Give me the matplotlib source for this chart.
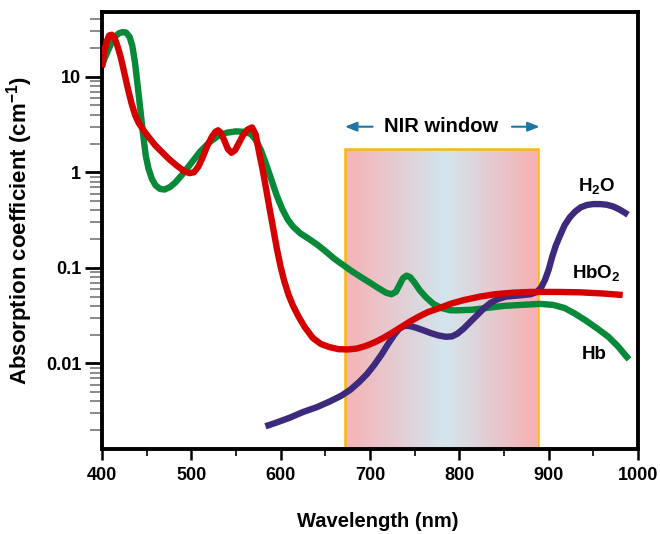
import numpy as np
import matplotlib.pyplot as plt
from matplotlib.colors import LinearSegmentedColormap
from matplotlib.ticker import LogLocator, NullFormatter, FixedLocator

plt.rcParams['font.family'] = ['Liberation Sans', 'DejaVu Sans']
plt.rcParams['font.weight'] = 'bold'
plt.rcParams['axes.labelweight'] = 'bold'
plt.rcParams['mathtext.fontset'] = 'custom'
plt.rcParams['mathtext.rm'] = 'Liberation Sans:bold'
plt.rcParams['mathtext.default'] = 'rm'

# deoxy-haemoglobin
hb_nm = [400, 403, 407, 411, 415, 419, 423, 427, 431, 434, 437, 440, 443, 446,
         449, 452, 456, 460, 465, 470, 476, 482, 490, 500, 510, 520, 530, 540,
         550, 560, 567, 572, 578, 584, 590, 596, 602, 608, 614, 622, 632, 641,
         650, 660, 670, 680, 690, 700, 710, 718, 724, 729, 733, 737, 741, 745,
         750, 756, 763, 771, 780, 790, 800, 815, 830, 850, 870, 890, 905, 918,
         930, 942, 955, 967, 978, 985, 990]
hb_val = [13, 15.5, 19, 23, 26.5, 28.5, 29.3, 29, 26, 21, 14, 8, 4.5, 2.5,
          1.5, 1.1, 0.85, 0.73, 0.67, 0.66, 0.7, 0.78, 0.95, 1.25, 1.65, 2.05,
          2.4, 2.6, 2.68, 2.65, 2.5, 2.2, 1.7, 1.2, 0.82, 0.56, 0.41, 0.32, 0.27,
          0.23, 0.2, 0.175, 0.15, 0.125, 0.107, 0.092, 0.08, 0.07, 0.061, 0.055,
          0.053, 0.056, 0.066, 0.078, 0.083, 0.08, 0.07, 0.058, 0.049, 0.042,
          0.038, 0.036, 0.036, 0.0365, 0.038, 0.04, 0.041, 0.042, 0.041, 0.038,
          0.033, 0.028, 0.023, 0.019, 0.015, 0.0125, 0.011]

# oxy-haemoglobin
hbo2_nm = [400, 402, 405, 408, 411, 414, 417, 421, 425, 429, 433, 437, 441, 446,
           452, 460, 468, 476, 484, 492, 498, 503, 508, 513, 518, 523, 527, 530,
           533, 537, 541, 545, 549, 553, 558, 563, 568, 572, 576, 580, 584, 588,
           592, 596, 600, 604, 609, 614, 620, 627, 636, 645, 655, 665, 675, 685,
           695, 705, 715, 725, 735, 745, 755, 765, 778, 790, 805, 823, 840, 860,
           880, 910, 935, 960, 983]
hbo2_val = [12.5, 17, 23, 27, 27.5, 25.5, 21.5, 16, 11, 7.5, 5.3, 4.0, 3.3, 2.8,
            2.35, 1.9, 1.6, 1.35, 1.17, 1.03, 0.98, 1.0, 1.15, 1.45, 1.9, 2.35,
            2.65, 2.75, 2.6, 2.15, 1.75, 1.6, 1.7, 2.0, 2.45, 2.8, 2.95, 2.5, 1.6,
            1.05, 0.65, 0.4, 0.25, 0.155, 0.103, 0.073, 0.052, 0.04, 0.031, 0.024,
            0.0185, 0.016, 0.0148, 0.0141, 0.014, 0.0143, 0.0152, 0.0166, 0.0185,
            0.021, 0.024, 0.0275, 0.031, 0.0345, 0.038, 0.042, 0.046, 0.05, 0.053,
            0.055, 0.056, 0.056, 0.0555, 0.054, 0.052]

# water
h2o_nm = [583, 595, 610, 625, 641, 655, 668, 678, 688, 697, 705, 713, 720, 727,
          733, 739, 745, 752, 760, 768, 777, 785, 792, 798, 805, 812, 820, 828,
          835, 843, 852, 862, 872, 880, 887, 892, 896, 900, 904, 908, 913, 918,
          924, 930, 936, 943, 950, 958, 965, 972, 979, 985, 989]
h2o_val = [0.0022, 0.0024, 0.0027, 0.0031, 0.0035, 0.004, 0.0046, 0.0053, 0.0064,
           0.0078, 0.0097, 0.0124, 0.0158, 0.0198, 0.0232, 0.0248, 0.0246, 0.0236,
           0.0222, 0.0208, 0.0196, 0.019, 0.0192, 0.0205, 0.0232, 0.027, 0.032,
           0.038, 0.043, 0.047, 0.05, 0.051, 0.052, 0.053, 0.056, 0.063, 0.075,
           0.095, 0.13, 0.17, 0.22, 0.28, 0.34, 0.39, 0.43, 0.455, 0.465, 0.465,
           0.458, 0.44, 0.41, 0.38, 0.36]

nir_lo, nir_hi, nir_top = 672, 888, 1.76
x_ticks = [400, 500, 600, 700, 800, 900, 1000]
y_ticks = [0.01, 0.1, 1, 10]
y_tick_labels = ['0.01', '0.1', '1', '10']
y_lo, y_hi = 0.00127, 47

fig = plt.figure(figsize=(6.6, 5.34), dpi=100)
ax = fig.add_axes([0.1545, 0.159, 0.812, 0.8176])
ax.set_yscale('log')

# NIR window: pink-blue-pink gradient box
grad = LinearSegmentedColormap.from_list(
    'nir', [(0, '#f6b3b6'), (0.52, '#d3e5ee'), (1, '#f7b0b2')])
ax.imshow(np.linspace(0, 1, 256).reshape(1, -1), cmap=grad, aspect='auto',
          extent=(nir_lo, nir_hi, y_lo, nir_top), zorder=1)
ax.plot([nir_lo, nir_lo, nir_hi, nir_hi], [y_lo, nir_top, nir_top, y_lo],
        color='#f5b912', lw=1.8, zorder=2, solid_joinstyle='miter')
ax.set_xlim(400, 1000)
ax.set_ylim(y_lo, y_hi)

lw = 4.6
ax.plot(hb_nm, hb_val, color='#07893a', lw=lw, solid_capstyle='butt', zorder=3)
ax.plot(h2o_nm, h2o_val, color='#3e2a7c', lw=lw, solid_capstyle='butt', zorder=4)
ax.plot(hbo2_nm, hbo2_val, color='#d50000', lw=lw, solid_capstyle='butt', zorder=5)

ax.text(954, 0.72, 'H$_2$O', fontsize=13.5, ha='center', va='center')
ax.text(953, 0.088, 'HbO$_2$', fontsize=13.5, ha='center', va='center')
ax.text(951, 0.0123, 'Hb', fontsize=13.5, ha='center', va='center')

ax.text(780, 3.0, 'NIR window', fontsize=14.5, ha='center', va='center')
arrow = dict(arrowstyle='-|>,head_length=0.7,head_width=0.28', color='#1d76a6',
             lw=1.5, shrinkA=0, shrinkB=0)
ax.annotate('', xy=(672, 3.0), xytext=(703, 3.0), arrowprops=arrow)
ax.annotate('', xy=(890, 3.0), xytext=(859, 3.0), arrowprops=arrow)

for s in ax.spines.values():
    s.set_linewidth(2.8)

ax.xaxis.set_major_locator(FixedLocator(x_ticks))
ax.xaxis.set_minor_locator(FixedLocator([450, 550, 650, 750, 850, 950]))
ax.tick_params(axis='x', which='major', length=8, width=1.8, labelsize=13, pad=5)
ax.tick_params(axis='x', which='minor', length=5, width=1.2)

ax.yaxis.set_major_locator(FixedLocator(y_ticks))
ax.set_yticklabels(y_tick_labels)
ax.yaxis.set_minor_locator(LogLocator(base=10, subs=np.arange(2, 10)))
ax.yaxis.set_minor_formatter(NullFormatter())
ax.tick_params(axis='y', which='major', length=12, width=2, labelsize=13, pad=3)
ax.tick_params(axis='y', which='minor', length=9, width=1.2, color='#777777')

ax.set_xlabel('Wavelength (nm)', fontsize=14.5, labelpad=20)
ax.xaxis.label.set_x(0.515)
ax.set_ylabel('Absorption coefficient (cm$^{-1}$)', fontsize=16, labelpad=8)

fig.savefig('out.png', dpi=100)
